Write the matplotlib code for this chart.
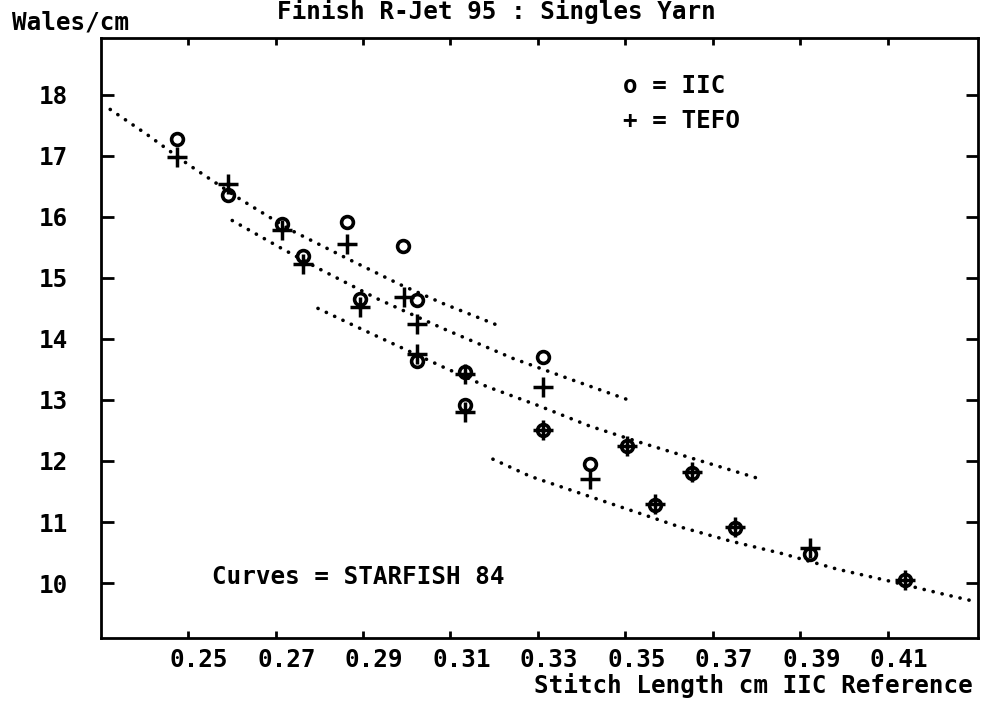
import matplotlib
matplotlib.use("Agg")
import matplotlib.pyplot as plt
from matplotlib.transforms import ScaledTranslation

# measured points (stitch length cm, wales/cm)
iic_x = [0.2475, 0.2591, 0.2715, 0.2763, 0.2863, 0.2893, 0.2991, 0.3023, 0.3023, 0.3133,
         0.3133, 0.3311, 0.3311, 0.3419, 0.3503, 0.3567, 0.3652, 0.3750, 0.3922, 0.4139]
iic_y = [17.28, 16.36, 15.89, 15.36, 15.92, 14.66, 15.52, 14.64, 13.63, 13.45,
         12.91, 13.70, 12.50, 11.95, 12.25, 11.28, 11.80, 10.90, 10.47, 10.05]
tefo_x = [0.2475, 0.2591, 0.2715, 0.2763, 0.2863, 0.2893, 0.2994, 0.3023, 0.3023, 0.3133,
          0.3133, 0.3311, 0.3311, 0.3419, 0.3503, 0.3567, 0.3652, 0.3750, 0.3922, 0.4139]
tefo_y = [16.98, 16.53, 15.78, 15.22, 15.56, 14.52, 14.68, 14.25, 13.75, 13.42,
          12.80, 13.22, 12.50, 11.70, 12.25, 11.30, 11.82, 10.92, 10.57, 10.05]

# STARFISH 84 curves
curve_a_x = [0.2322, 0.2406, 0.2500, 0.2619, 0.2733, 0.2863, 0.2985, 0.3083, 0.3202]
curve_a_y = [17.76, 17.35, 16.86, 16.29, 15.79, 15.32, 14.89, 14.58, 14.24]
curve_b_x = [0.2601, 0.2717, 0.2802, 0.2932, 0.3083, 0.3243, 0.3366, 0.3503]
curve_b_y = [15.94, 15.47, 15.14, 14.66, 14.17, 13.68, 13.36, 13.01]
curve_c_x = [0.2797, 0.2882, 0.2966, 0.3083, 0.3183, 0.3300, 0.3419, 0.3540, 0.3659, 0.3801]
curve_c_y = [14.50, 14.21, 13.93, 13.54, 13.22, 12.91, 12.57, 12.29, 12.03, 11.72]
curve_d_x = [0.3197, 0.3282, 0.3401, 0.3517, 0.3620, 0.3739, 0.3860, 0.3983, 0.4105, 0.4226, 0.4292]
curve_d_y = [12.03, 11.75, 11.46, 11.18, 10.93, 10.69, 10.48, 10.23, 10.03, 9.82, 9.71]

xticks = [0.25, 0.27, 0.29, 0.31, 0.33, 0.35, 0.37, 0.39, 0.41]
yticks = [10, 11, 12, 13, 14, 15, 16, 17, 18]

font = "DejaVu Sans Mono"
fs = 17.5

fig = plt.figure(figsize=(9.88, 7.06), dpi=100)
ax = fig.add_axes([101/988, 1-638/706, (978-101)/988, (638-38)/706])

for cx, cy in [(curve_a_x, curve_a_y), (curve_b_x, curve_b_y),
               (curve_c_x, curve_c_y), (curve_d_x, curve_d_y)]:
    ax.plot(cx, cy, color="black", lw=2.6, linestyle=(0, (0.05, 2.5)),
            dash_capstyle="round")

ax.plot(iic_x, iic_y, "o", ms=8.5, mfc="none", mec="black", mew=2.6)
ax.plot(tefo_x, tefo_y, "+", ms=14, mec="black", mew=2.5)

ax.set_xlim(0.2301, 0.4306)
ax.set_ylim(9.1, 18.93)
ax.set_xticks(xticks)
ax.set_xticklabels(["%.2f" % v for v in xticks])
ax.set_yticks(yticks)
ax.set_yticklabels([str(v) for v in yticks])

for s in ax.spines.values():
    s.set_linewidth(2)
ax.tick_params(axis="x", direction="in", length=5, width=2, top=True, pad=7)
ax.tick_params(axis="y", direction="in", length=9, width=2, right=True, pad=24)
for lab in ax.get_xticklabels() + ax.get_yticklabels():
    lab.set_fontfamily(font)
    lab.set_fontsize(fs)
    lab.set_fontweight("bold")
for lab in ax.get_xticklabels():
    lab.set_transform(lab.get_transform() + ScaledTranslation(0.11, 0, fig.dpi_scale_trans))

fig.text(496/988, 1-12/706, "Finish R-Jet 95 : Singles Yarn", ha="center", va="center",
         family=font, fontsize=fs, fontweight="bold")
fig.text(12/988, 1-22/706, "Wales/cm", ha="left", va="center",
         family=font, fontsize=fs, fontweight="bold")
fig.text(973/988, 1-686/706, "Stitch Length cm IIC Reference", ha="right", va="center",
         family=font, fontsize=fs, fontweight="bold")
fig.text(623/988, 1-86/706, "o = IIC", ha="left", va="center",
         family=font, fontsize=fs, fontweight="bold")
fig.text(623/988, 1-121/706, "+ = TEFO", ha="left", va="center",
         family=font, fontsize=fs, fontweight="bold")
fig.text(212/988, 1-577/706, "Curves = STARFISH 84", ha="left", va="center",
         family=font, fontsize=fs, fontweight="bold")

fig.savefig("out.png", dpi=100)
